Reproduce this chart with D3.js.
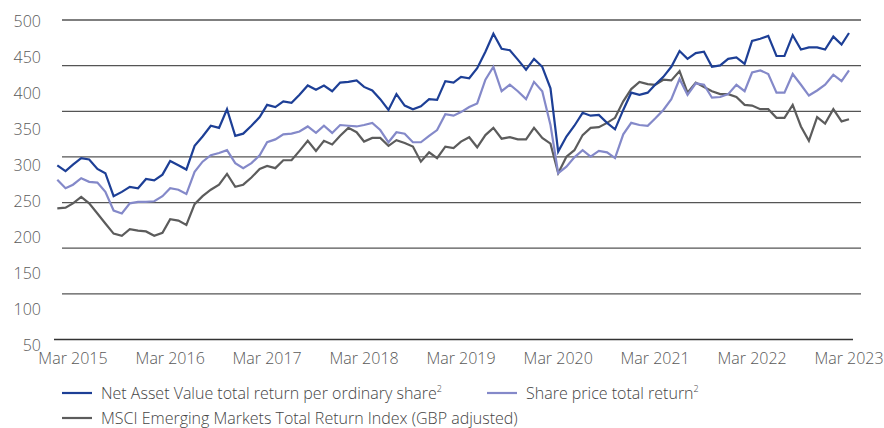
<!doctype html>
<html>
  <head>
    <meta charset="utf-8">
    <title>Performance</title>
    <script src="https://cdn.jsdelivr.net/npm/d3@7"></script>
    <style>
      body { margin: 0; background: #fff; }
      text { font-family: "Open Sans", sans-serif; font-weight: 300; }
    </style>
  </head>
  <body>
    <script>
      // monthly points, Jan 2015 .. Mar 2023
      const startMonth = new Date(2015, 0, 1);
      const endMonth = new Date(2023, 2, 1);

      const navReturn = [
        300, 292, 301, 310, 308, 295, 289, 257, 263, 270, 268, 281, 279, 287, 306, 300, 294, 327, 340, 355,
        352, 378, 341, 344, 355, 367, 384, 381, 389, 387, 398, 411, 405, 411, 403, 415, 416, 418, 409, 404,
        392, 377, 399, 383, 378, 382, 392, 391, 417, 415, 423, 421, 435, 458, 483, 462, 460, 447, 433, 448,
        437, 407, 319, 340, 355, 373, 369, 370, 359, 350, 377, 401, 398, 401, 412, 423, 437, 459, 448, 456,
        458, 437, 439, 448, 450, 441, 473, 476, 480, 452, 452, 481, 461, 464, 464, 461, 479, 468, 484
      ];
      const sharePrice = [
        280, 268, 273, 282, 277, 276, 263, 237, 233, 247, 249, 249, 250, 257, 268, 266, 260, 291, 305, 314,
        317, 321, 303, 296, 303, 314, 332, 336, 343, 344, 347, 354, 345, 355, 345, 356, 355, 354, 356, 359,
        349, 332, 346, 344, 332, 332, 341, 349, 371, 369, 374, 381, 386, 419, 437, 403, 412, 403, 392, 416,
        403, 356, 289, 298, 311, 321, 312, 320, 318, 310, 343, 359, 356, 355, 365, 377, 392, 420, 398, 414,
        412, 394, 395, 399, 412, 403, 429, 432, 427, 401, 401, 427, 412, 397, 404, 412, 426, 417, 432
      ];
      const msciIndex = [
        240, 241, 247, 256, 247, 233, 219, 205, 202, 211, 209, 208, 202, 206, 225, 223, 217, 246, 257, 266,
        273, 288, 270, 273, 283, 295, 299, 296, 307, 307, 320, 334, 320, 334, 329, 341, 352, 346, 333, 338,
        338, 327, 335, 331, 326, 305, 318, 310, 326, 324, 333, 339, 325, 342, 352, 337, 339, 336, 336, 352,
        338, 330, 289, 312, 321, 342, 352, 353, 359, 366, 389, 406, 416, 413, 412, 419, 418, 431, 401, 415,
        409, 403, 399, 399, 395, 384, 383, 378, 378, 366, 366, 384, 354, 334, 367, 358, 378, 361, 364
      ];

      const yTicks = [500, 450, 400, 350, 300, 250, 200, 150, 100, 50];
      const xTickYears = [2015, 2016, 2017, 2018, 2019, 2020, 2021, 2022, 2023];
      const seriesNames = [
        'Net Asset Value total return per ordinary share',
        'Share price total return',
        'MSCI Emerging Markets Total Return Index (GBP adjusted)'
      ];

      const width = 884;
      const height = 428;
      const months = d3.timeMonth.range(startMonth, d3.timeMonth.offset(endMonth, 1));

      const svg = d3.select('body').append('svg')
          .attr('width', width)
          .attr('height', height);

      const x = d3.scaleTime()
          .domain([startMonth, endMonth])
          .range([57.3, 849]);

      const y = d3.scaleLinear()
          .domain([50, 500])
          .range([345, 21.5]);

      // horizontal rules (the export puts them on their own spacing)
      const gridY = d3.scaleLinear().domain([0, 7]).range([339.5, 20]);
      svg.append('g')
        .selectAll('line')
        .data(d3.range(8))
        .join('line')
          .attr('x1', d => d === 0 ? 54 : 62)
          .attr('x2', d => d === 0 ? 853 : 861)
          .attr('y1', d => gridY(d))
          .attr('y2', d => gridY(d))
          .attr('stroke', d => d === 0 ? '#333' : '#555')
          .attr('stroke-width', d => d === 0 ? 1.6 : 1.3);

      // y labels
      svg.append('g')
        .selectAll('text')
        .data(yTicks)
        .join('text')
          .attr('x', 41)
          .attr('y', d => y(d))
          .attr('dy', '0.35em')
          .attr('text-anchor', 'end')
          .attr('font-size', 16)
          .attr('fill', '#595959')
          .text(d => d);

      // x labels
      svg.append('g')
        .selectAll('text')
        .data(xTickYears)
        .join('text')
          .attr('x', d => x(new Date(d, 2, 1)))
          .attr('y', 364)
          .attr('text-anchor', 'middle')
          .attr('font-size', 16)
          .attr('fill', '#595959')
          .text(d => 'Mar ' + d);

      const line = d3.line()
          .x((d, i) => x(months[i]))
          .y(d => y(d));

      const series = [
        { values: msciIndex, color: '#5c5c5c' },
        { values: sharePrice, color: '#8489c9' },
        { values: navReturn, color: '#1d3f96' }
      ];

      svg.append('g')
        .selectAll('path')
        .data(series)
        .join('path')
          .attr('d', d => line(d.values))
          .attr('fill', 'none')
          .attr('stroke', d => d.color)
          .attr('stroke-width', 2.2)
          .attr('stroke-linejoin', 'miter');

      // legend
      const legendItems = [
        { name: seriesNames[0], color: '#1d3f96', sup: true, x: 62, y: 393 },
        { name: seriesNames[1], color: '#8489c9', sup: true, x: 487, y: 393 },
        { name: seriesNames[2], color: '#5c5c5c', sup: false, x: 62, y: 418 }
      ];

      const legend = svg.append('g')
        .selectAll('g')
        .data(legendItems)
        .join('g')
          .attr('transform', d => `translate(${d.x},${d.y})`);

      legend.append('line')
          .attr('x1', 0)
          .attr('x2', 30)
          .attr('stroke', d => d.color)
          .attr('stroke-width', 2.2);

      const label = legend.append('text')
          .attr('x', 39)
          .attr('dy', '0.35em')
          .attr('font-size', 16)
          .attr('fill', '#444')
          .text(d => d.name);

      label.filter(d => d.sup).append('tspan')
          .attr('font-size', 9)
          .attr('dy', '-0.75em')
          .text('2');
    </script>
  </body>
</html>
